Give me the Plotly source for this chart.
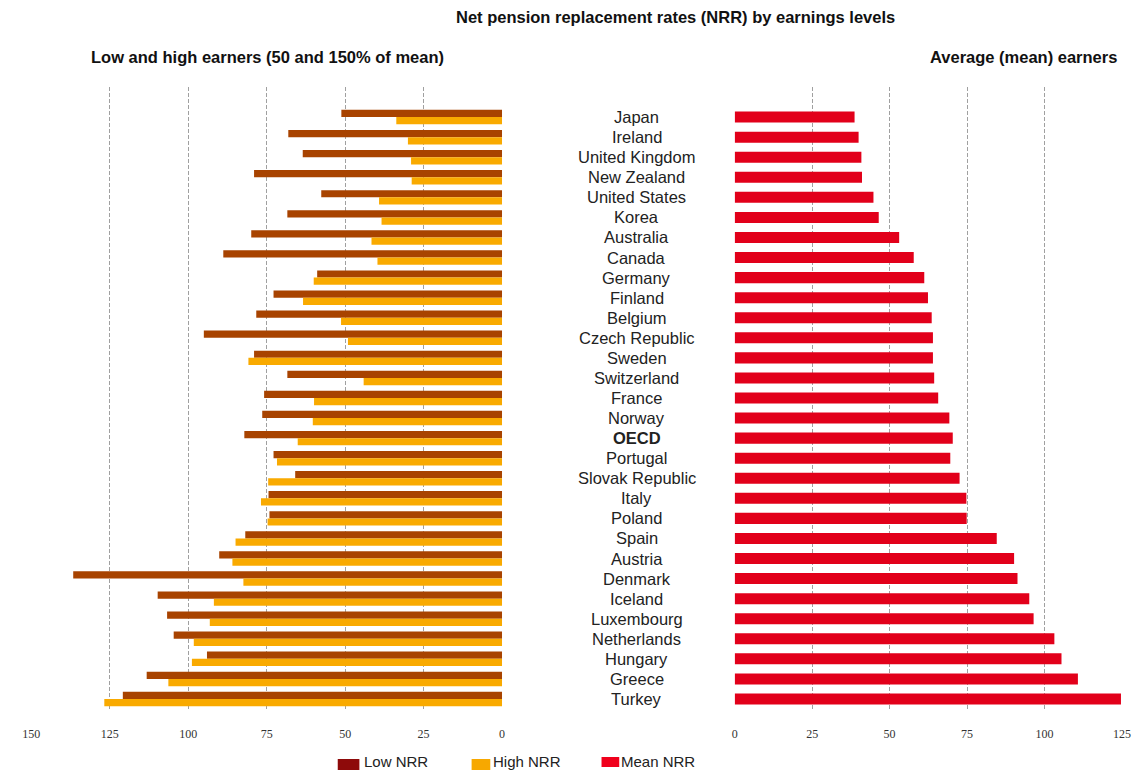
import plotly.graph_objects as go

countries = ["Japan", "Ireland", "United Kingdom", "New Zealand", "United States", "Korea",
             "Australia", "Canada", "Germany", "Finland", "Belgium", "Czech Republic", "Sweden",
             "Switzerland", "France", "Norway", "OECD", "Portugal", "Slovak Republic", "Italy",
             "Poland", "Spain", "Austria", "Denmark", "Iceland", "Luxembourg", "Netherlands",
             "Hungary", "Greece", "Turkey"]

low_nrr = [51.2, 68.1, 63.5, 79.0, 57.6, 68.4, 79.9, 88.8, 58.9, 72.8, 78.3, 95.0, 79.0,
           68.4, 75.8, 76.4, 82.1, 72.8, 65.9, 74.4, 74.1, 81.8, 90.1, 136.6, 109.7, 106.7,
           104.6, 94.0, 113.2, 120.8]

high_nrr = [33.7, 30.0, 29.0, 28.8, 39.2, 38.4, 41.6, 39.7, 60.0, 63.4, 51.3, 49.1, 80.8,
            44.1, 59.9, 60.3, 65.1, 71.7, 74.5, 76.8, 74.7, 84.9, 85.9, 82.4, 91.8, 93.1,
            98.2, 98.8, 106.3, 126.7]

mean_nrr = [38.7, 40.0, 40.9, 41.1, 44.8, 46.5, 53.1, 57.8, 61.2, 62.4, 63.6, 64.0, 64.0,
            64.4, 65.7, 69.3, 70.4, 69.6, 72.6, 74.8, 74.9, 84.6, 90.2, 91.3, 95.1, 96.5,
            103.2, 105.5, 110.8, 124.7]

left_ticks = [0, 25, 50, 75, 100, 125, 150]
right_ticks = [0, 25, 50, 75, 100, 125]

C_LOW = "#A84300"
C_HIGH = "#F9AA00"
C_MEAN = "#E2001A"
C_LOW_LEG = "#8E0A0A"
C_HIGH_LEG = "#F7A800"
C_MEAN_LEG = "#F0001C"

W, H = 1143, 772


def px(x):
    return x / W


def py(y):
    return 1 - y / H


fig = go.Figure()

fig.add_trace(go.Bar(y=countries, x=low_nrr, orientation="h", marker_color=C_LOW,
                     marker_line_width=0, width=0.36, offset=-0.36,
                     xaxis="x", yaxis="y", name="Low NRR", showlegend=False))
fig.add_trace(go.Bar(y=countries, x=high_nrr, orientation="h", marker_color=C_HIGH,
                     marker_line_width=0, width=0.36, offset=0.0,
                     xaxis="x", yaxis="y", name="High NRR", showlegend=False))
fig.add_trace(go.Bar(y=countries, x=mean_nrr, orientation="h", marker_color=C_MEAN,
                     marker_line_width=0, width=0.55,
                     xaxis="x2", yaxis="y2", name="Mean NRR", showlegend=False))

y_dom = [py(709), py(87)]
grid = dict(showgrid=True, gridcolor="#A0A0A0", griddash="4px,2px", gridwidth=1,
            zeroline=False, showline=False, ticks="", ticklabelstandoff=16,
            tickfont=dict(family="Liberation Serif", size=12, color="#333333"))

fig.update_layout(
    width=W, height=H,
    margin=dict(l=0, r=0, t=0, b=0),
    plot_bgcolor="white", paper_bgcolor="white",
    barmode="overlay",
    xaxis=dict(domain=[px(22.5), px(501)], range=[150, 0], tickvals=left_ticks,
               anchor="y", **grid),
    yaxis=dict(domain=y_dom, categoryorder="array", categoryarray=countries,
               range=[29.5, -1.5], showticklabels=False, showgrid=False,
               zeroline=False, anchor="x"),
    xaxis2=dict(domain=[px(737.3), px(1130.7)], range=[0, 125], tickvals=right_ticks,
                anchor="y2", **grid),
    yaxis2=dict(domain=y_dom, categoryorder="array", categoryarray=countries,
                range=[29.5, -1.5], showticklabels=False, showgrid=False,
                zeroline=False, anchor="x2"),
    showlegend=False,
)

annotations = []
for c in countries:
    annotations.append(dict(
        x=px(638), xref="paper", y=c, yref="y2", xanchor="center", yanchor="middle",
        text=f"<b>{c}</b>" if c == "OECD" else c, showarrow=False,
        font=dict(family="Liberation Sans", size=16.5, color="#222222")))

title_font = dict(family="Liberation Sans", size=16.5, color="#111111")
annotations.append(dict(x=px(677), y=py(17), xref="paper", yref="paper", showarrow=False,
                        text="<b>Net pension replacement rates (NRR) by earnings levels</b>",
                        xanchor="center", yanchor="middle", font=title_font))
annotations.append(dict(x=px(81), y=py(57), xref="paper", yref="paper", showarrow=False,
                        text="<b>Low and high earners (50 and 150% of mean)</b>",
                        xanchor="left", yanchor="middle", font=title_font))
annotations.append(dict(x=px(1128), y=py(57), xref="paper", yref="paper", showarrow=False,
                        text="<b>Average (mean) earners</b>",
                        xanchor="right", yanchor="middle", font=title_font))

# legend drawn manually
legend_items = [("Low NRR", C_LOW_LEG, 334, 356, 759, 770, 359),
                ("High NRR", C_HIGH_LEG, 470, 489, 759, 770, 490),
                ("Mean NRR", C_MEAN_LEG, 602, 620, 757, 767, 620)]
shapes = []
for name, col, x0, x1, y0, y1, tx in legend_items:
    shapes.append(dict(type="rect", xref="paper", yref="paper",
                       x0=px(x0), x1=px(x1), y0=py(y1), y1=py(y0),
                       fillcolor=col, line_width=0))
    annotations.append(dict(x=px(tx), y=py(761), xref="paper", yref="paper",
                            showarrow=False, text=name, xanchor="left", yanchor="middle",
                            font=dict(family="Liberation Sans", size=15, color="#222222")))

fig.update_layout(annotations=annotations, shapes=shapes)

fig.write_html("out.html", config={"displayModeBar": False},
               post_script="document.body.style.margin='0';document.body.style.overflow='hidden';")
